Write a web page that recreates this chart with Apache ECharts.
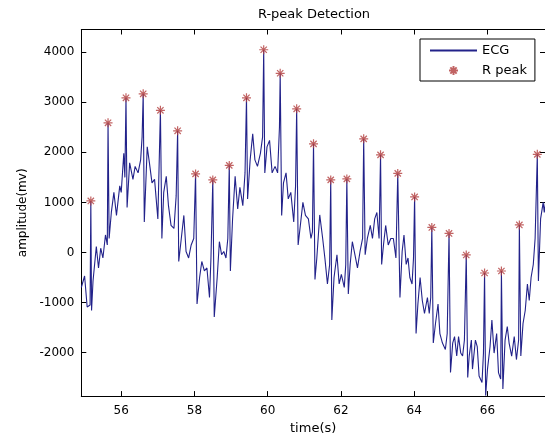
<!DOCTYPE html>
<html>
<head>
<meta charset="utf-8">
<script src="https://cdn.jsdelivr.net/npm/echarts@6/dist/echarts.min.js"></script>
<style>
html,body{margin:0;padding:0;background:#fff;}
#chart{width:545px;height:440px;}
</style>
</head>
<body>
<div id="chart"></div>
<script>
// ECG samples between R peaks (time in s, amplitude in mv)
var ecgTime = [
54.91,55.00,55.07,55.15,55.19,55.23,55.32,55.38,55.44,55.50,55.57,55.62,
55.67,55.73,55.80,55.87,55.96,56.00,56.07,56.10,
56.16,56.23,56.32,56.38,56.46,56.53,56.57,
56.63,56.71,56.77,56.84,56.91,57.00,
57.11,57.16,57.23,57.29,57.36,57.44,57.50,
57.57,57.64,57.71,57.77,57.84,57.91,57.98,
58.07,58.14,58.20,58.27,58.34,58.41,58.45,
58.54,58.62,58.68,58.74,58.80,58.86,58.91,
58.98,59.04,59.11,59.18,59.24,59.32,59.38,
59.45,59.52,59.59,59.65,59.72,59.80,59.86,
59.92,59.98,60.05,60.12,60.20,60.27,60.32,
60.38,60.43,60.50,60.56,60.63,60.71,60.76,
60.83,60.89,60.96,61.03,61.11,61.18,61.22,
61.29,61.34,61.42,61.50,61.56,61.63,61.69,
61.75,61.81,61.89,61.95,62.01,62.09,62.13,
62.20,62.25,62.31,62.38,62.45,62.52,62.59,
62.66,62.72,62.80,62.86,62.92,62.98,63.04,
63.11,63.16,63.22,63.29,63.36,63.43,63.50,
63.61,63.67,63.72,63.78,63.83,63.88,63.94,63.98,
64.05,64.10,64.16,64.22,64.28,64.36,64.41,64.45,
64.52,64.58,64.65,64.70,64.77,64.85,64.90,
64.99,65.05,65.10,65.16,65.21,65.27,65.32,65.37,
65.46,65.50,65.56,65.59,65.67,65.72,65.77,65.85,65.89,
65.95,66.00,66.07,66.12,66.18,66.25,66.30,66.36,
66.42,66.48,66.54,66.59,66.66,66.73,66.79,66.85,
66.91,66.97,67.03,67.09,67.14,67.19,67.25,67.30,
67.39,67.45,67.52,67.55,67.60
];
var ecgValue = [
-700,-470,-1090,-1050,-1160,-570,120,-310,85,-110,350,150,
280,800,1200,740,1330,1200,1980,1500,
900,1790,1460,1720,1590,1850,2310,
610,2110,1790,1390,1460,670,
280,1200,1520,935,540,480,1130,
-180,280,740,20,-110,150,280,
-1030,-500,-180,-370,-310,-900,-110,
-1290,-500,215,-45,20,-110,280,
-370,670,1520,870,1300,935,1590,
1070,1850,2370,1850,1720,1980,2310,
1590,2110,2240,1590,1720,1590,2500,
740,1390,1590,1070,1200,610,1330,
150,540,1000,740,670,280,410,
-540,-110,750,280,-110,-630,-240,
-1350,-500,-45,-630,-440,-700,-240,
-830,-240,215,-45,-310,20,280,
-45,280,540,280,670,800,280,
-240,150,540,150,280,280,-110,
-900,20,350,-240,-110,-500,-630,-110,
-1620,-1030,-500,-960,-1220,-900,-1220,-900,
-1810,-1420,-1030,-1620,-1810,-1940,-1620,
-2400,-1810,-1680,-2070,-1680,-2010,-2070,-1750,
-2500,-2070,-1750,-2330,-1750,-1880,-2470,-2600,-2010,
-2860,-2330,-1880,-1350,-2010,-1620,-2400,-2530,
-2730,-1750,-1480,-1810,-2070,-1680,-2140,-1750,
-2070,-1420,-1160,-630,-960,-500,-240,280,
-570,670,1000,800,1100
];
// Detected R peaks
var peakTime = [55.17,55.64,56.13,56.60,57.07,57.54,58.03,58.50,58.95,59.42,59.89,60.34,60.79,61.25,61.72,62.16,62.62,63.08,63.55,64.01,64.48,64.95,65.42,65.92,66.38,66.87,67.36];
var peakValue = [1030,2590,3090,3170,2840,2430,1570,1450,1740,3090,4050,3580,2870,2170,1450,1470,2270,1950,1580,1110,500,380,-50,-410,-370,550,1960];

var xTicks = [56,58,60,62,64,66];
var yTicks = [-2000,-1000,0,1000,2000,3000,4000];
var xRange = [54.91, 67.57];
var yRange = [-2870, 4455];

var ecgData = [];
for (var i = 0; i < ecgTime.length; i++) ecgData.push([ecgTime[i], ecgValue[i]]);
for (var j = 0; j < peakTime.length; j++) ecgData.push([peakTime[j], peakValue[j]]);
ecgData.sort(function(a,b){return a[0]-b[0];});
var peakData = peakTime.map(function(t,k){return [t, peakValue[k]];});

var FONT = 'DejaVu Sans';
var STAR = 'path://M5,0L5,10M0,5L10,5M1.5,1.5L8.5,8.5M8.5,1.5L1.5,8.5';
function plain(v){ return String(v); }

function xAx(pos, labels){
  return {
    type:'value', position:pos, min:xRange[0], max:xRange[1],
    axisLine:{show:true, onZero:false, lineStyle:{color:'#000', width:1}},
    axisTick:{show:true, inside:true, length:5, customValues:xTicks, lineStyle:{color:'#000'}},
    axisLabel:{show:labels, customValues:xTicks, formatter:plain, margin:9, color:'#000', fontFamily:FONT, fontSize:12},
    splitLine:{show:false},
    name: labels ? 'time(s)' : '', nameLocation:'middle', nameGap:23,
    nameTextStyle:{color:'#000', fontFamily:FONT, fontSize:13}
  };
}
function yAx(pos, labels){
  return {
    type:'value', position:pos, min:yRange[0], max:yRange[1],
    axisLine:{show:true, onZero:false, lineStyle:{color:'#000', width:1}},
    axisTick:{show:true, inside:true, length:5, customValues:yTicks, lineStyle:{color:'#000'}},
    axisLabel:{show:labels, customValues:yTicks, formatter:plain, margin:7, color:'#000', fontFamily:FONT, fontSize:12},
    splitLine:{show:false},
    name: labels ? 'amplitude(mv)' : '', nameLocation:'middle', nameGap:52, nameRotate:90,
    nameTextStyle:{color:'#000', fontFamily:FONT, fontSize:12}
  };
}

var chart = echarts.init(document.getElementById('chart'), null, {renderer:'canvas'});
chart.setOption({
  animation:false,
  backgroundColor:'#fff',
  title:{
    text:'R-peak Detection', left:314, top:8, textAlign:'center', padding:0,
    textStyle:{color:'#000', fontFamily:FONT, fontSize:13, fontWeight:'normal'}
  },
  legend:{
    orient:'vertical', left:420, top:39,
    backgroundColor:'#fff', borderColor:'#000', borderWidth:1, borderRadius:0,
    padding:[5,8,4,9], itemWidth:47, itemHeight:9, itemGap:7,
    textStyle:{color:'#000', fontFamily:FONT, fontSize:13},
    data:[
      {name:'ECG', itemStyle:{opacity:0}},
      {name:'R peak', icon:STAR}
    ]
  },
  grid:{left:81.3, top:29.5, right:-1, bottom:37, containLabel:false},
  xAxis:[xAx('bottom', true), xAx('top', false)],
  yAxis:[yAx('left', true), yAx('right', false)],
  series:[
    {
      name:'ECG', type:'line', data:ecgData, xAxisIndex:0, yAxisIndex:0,
      showSymbol:false, symbol:'none', smooth:false, sampling:null,
      lineStyle:{color:'#22228a', width:1.1}, itemStyle:{color:'#22228a'},
      clip:true, z:2
    },
    {
      name:'R peak', type:'scatter', data:peakData, xAxisIndex:0, yAxisIndex:0,
      symbol:STAR, symbolSize:9, symbolKeepAspect:true,
      itemStyle:{color:'#b23c3c', borderColor:'#b23c3c', borderWidth:1.2},
      z:3
    }
  ]
});
</script>
</body>
</html>
